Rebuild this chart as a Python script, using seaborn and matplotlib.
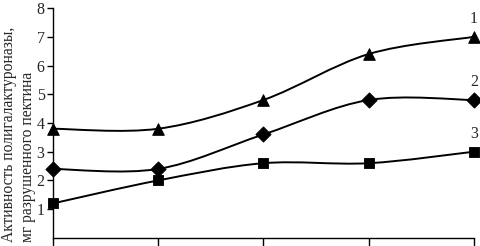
import numpy as np
import pandas as pd
import matplotlib
matplotlib.use("Agg")
import matplotlib.pyplot as plt
import seaborn as sns
from matplotlib.path import Path
from matplotlib.patches import PathPatch

# data
x_points = [0, 1, 2, 3, 4]
series_1 = [3.8, 3.8, 4.8, 6.4, 7.0]   # triangles
series_2 = [2.4, 2.4, 3.6, 4.8, 4.8]   # diamonds
series_3 = [1.2, 2.0, 2.6, 2.6, 3.0]   # squares
series_names = ["1", "2", "3"]
markers = {"1": "^", "2": "D", "3": "s"}
marker_sizes = {"1": 70, "2": 60, "3": 60}
y_ticks = [1, 2, 3, 4, 5, 6, 7, 8]
y_label = "Активность полигалактуроназы,\nмг разрушенного пектина"

df = pd.concat([
    pd.DataFrame({"x": x_points, "y": vals, "series": name})
    for name, vals in zip(series_names, [series_1, series_2, series_3])
])

sns.set_style("ticks")
plt.rcParams["font.family"] = "serif"
plt.rcParams["font.serif"] = ["Liberation Serif", "DejaVu Serif"]


def smooth_path(xs, ys):
    # Excel-style smoothed line: Catmull-Rom segments as cubic Beziers
    pts = np.column_stack([xs, ys]).astype(float)
    ext = np.vstack([pts[0], pts, pts[-1]])
    verts = [tuple(pts[0])]
    codes = [Path.MOVETO]
    for i in range(1, len(ext) - 2):
        p0, p1, p2, p3 = ext[i - 1], ext[i], ext[i + 1], ext[i + 2]
        c1 = p1 + (p2 - p0) / 6.0
        c2 = p2 - (p3 - p1) / 6.0
        verts += [tuple(c1), tuple(c2), tuple(p2)]
        codes += [Path.CURVE4] * 3
    return Path(verts, codes)


fig, ax = plt.subplots(figsize=(4.81, 2.46), dpi=100)
fig.subplots_adjust(left=0.110, right=0.985, bottom=0.033, top=0.967)

for name in series_names:
    sub = df[df["series"] == name]
    ax.add_patch(PathPatch(smooth_path(sub["x"], sub["y"]), facecolor="none",
                           edgecolor="black", lw=1.4, zorder=2))
    sns.scatterplot(data=sub, x="x", y="y", marker=markers[name], s=marker_sizes[name],
                    color="black", edgecolor="black", ax=ax, zorder=3,
                    clip_on=False, legend=False)
    last = sub.iloc[-1]
    ax.annotate(name, (last["x"], last["y"]), xytext=(0, 7), textcoords="offset points",
                ha="center", va="bottom", fontsize=11.5)

ax.set_xlim(0, 4)
ax.set_ylim(0, 8)
ax.set_xticks(x_points)
ax.set_xticklabels([])
ax.set_yticks(y_ticks)
ax.set_yticklabels([str(t) for t in y_ticks], fontsize=11.5)
ax.tick_params(axis="both", direction="out", length=4, width=1, color="black", pad=2)
ax.tick_params(axis="x", length=6)
ax.set_xlabel("")
ax.set_ylabel("")
fig.text(18.5 / 481, 0.455, y_label, rotation=90, ha="center", va="center",
         multialignment="left", fontsize=11.2, linespacing=1.25)
sns.despine(ax=ax)
for s in ["left", "bottom"]:
    ax.spines[s].set_linewidth(1.0)
    ax.spines[s].set_color("black")

fig.savefig("out.png", dpi=100)
